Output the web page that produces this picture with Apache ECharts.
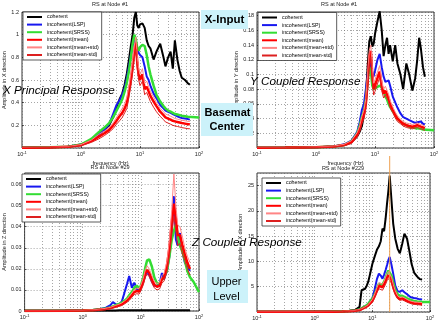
<!DOCTYPE html>
<html>
<head>
<meta charset="utf-8">
<script src="https://cdn.jsdelivr.net/npm/echarts@6/dist/echarts.min.js"></script>
<style>
html, body { margin: 0; padding: 0; background: #fff; }
#chart { width: 445px; height: 326px; }
</style>
</head>
<body>
<div id="chart"></div>
<script>
var names = ['coherent', 'incoherent(LSP)', 'incoherent(SRSS)', 'incoherent(mean)', 'incoherent(mean+std)', 'incoherent(mean-std)'];
var colors = ['#000000', '#1818f0', '#33dd33', '#ff0000', '#ff8585', '#dd2020'];
var widths = [2, 2, 2.5, 2.5, 1, 1];
var xTicks = [0.1, 1, 10, 100];
var markFreq = 20;   // orange marker in the Node #229 plot

// RS at Node #1, X direction
var freqX = [0.1, 0.3, 0.6, 1, 1.5, 2, 2.5, 3, 3.5, 4, 4.5, 5, 5.5, 6, 6.5, 7, 7.5, 8, 8.5, 9, 9.5, 10, 11, 12, 13, 14, 15, 17, 19, 22, 25, 27, 30, 33, 36, 39, 43, 47, 51, 58, 65, 70, 100];
var cohX   = [0.003, 0.006, 0.012, 0.03, 0.07, 0.12, 0.16, 0.2, 0.27, 0.36, 0.43, 0.48, 0.56, 0.66, 0.78, 0.9, 1.0, 1.15, 1.2, 1.08, 1.06, 1.09, 1.1, 1.06, 0.95, 0.9, 0.88, 0.78, 0.85, 0.92, 0.8, 0.72, 0.8, 0.85, 0.7, 0.95, 0.78, 0.68, 0.62, 0.6, 0.57, 0.56, null];
var lspX   = [0.003, 0.006, 0.012, 0.03, 0.07, 0.12, 0.16, 0.21, 0.3, 0.38, 0.42, 0.47, 0.53, 0.62, 0.72, 0.82, 0.9, 0.96, 0.95, 0.88, 0.84, 0.82, 0.8, 0.72, 0.63, 0.6, 0.55, 0.48, 0.44, 0.38, 0.35, 0.33, 0.32, 0.31, 0.3, 0.29, 0.28, 0.27, 0.265, 0.26, 0.255, 0.25, null];
var srssX  = [0.003, 0.006, 0.012, 0.03, 0.08, 0.14, 0.18, 0.22, 0.27, 0.33, 0.38, 0.43, 0.5, 0.58, 0.68, 0.8, 0.92, 1.0, 0.96, 0.88, 0.86, 0.89, 0.91, 0.9, 0.82, 0.72, 0.65, 0.55, 0.47, 0.41, 0.37, 0.35, 0.33, 0.32, 0.31, 0.3, 0.295, 0.29, 0.285, 0.28, 0.275, 0.275, 0.27];
var meanX  = [0.003, 0.005, 0.01, 0.025, 0.06, 0.1, 0.13, 0.16, 0.2, 0.24, 0.28, 0.31, 0.35, 0.4, 0.5, 0.6, 0.72, 0.85, 0.93, 0.75, 0.65, 0.6, 0.65, 0.52, 0.54, 0.5, 0.46, 0.41, 0.37, 0.32, 0.29, 0.27, 0.26, 0.25, 0.24, 0.235, 0.23, 0.225, 0.22, 0.215, 0.21, 0.21, null];
var meanPX = [0.004, 0.006, 0.012, 0.03, 0.07, 0.12, 0.15, 0.18, 0.22, 0.27, 0.31, 0.35, 0.39, 0.45, 0.55, 0.66, 0.78, 0.9, 0.98, 0.8, 0.7, 0.65, 0.7, 0.57, 0.59, 0.54, 0.5, 0.45, 0.4, 0.35, 0.32, 0.3, 0.29, 0.28, 0.27, 0.26, 0.255, 0.25, 0.245, 0.24, 0.235, 0.235, null];
var meanMX = [0.002, 0.004, 0.008, 0.02, 0.05, 0.08, 0.11, 0.14, 0.17, 0.21, 0.24, 0.27, 0.31, 0.35, 0.45, 0.55, 0.66, 0.79, 0.87, 0.69, 0.6, 0.55, 0.59, 0.47, 0.49, 0.45, 0.41, 0.36, 0.32, 0.28, 0.25, 0.23, 0.22, 0.21, 0.2, 0.195, 0.19, 0.185, 0.18, 0.175, 0.17, 0.17, null];

// RS at Node #1, Y direction
var freqY = [0.1, 0.3, 0.6, 1, 2, 3, 4, 5, 5.5, 6, 6.5, 7, 7.5, 8, 8.5, 9, 9.5, 10, 11, 12, 13, 14, 15, 16, 17, 18, 20, 22, 24, 27, 30, 34, 38, 43, 48, 52, 56, 60, 65, 70, 100];
var cohY   = [0.0005, 0.0006, 0.0008, 0.001, 0.002, 0.004, 0.008, 0.016, 0.022, 0.03, 0.045, 0.07, 0.11, 0.145, 0.152, 0.138, 0.142, 0.155, 0.172, 0.186, 0.16, 0.125, 0.14, 0.15, 0.128, 0.14, 0.118, 0.14, 0.115, 0.1, 0.08, 0.115, 0.1, 0.078, 0.095, 0.12, 0.15, 0.135, 0.11, 0.097, null];
var lspY   = [0.0005, 0.0006, 0.0008, 0.001, 0.002, 0.005, 0.01, 0.022, 0.035, 0.052, 0.06, 0.08, 0.1, 0.118, 0.112, 0.095, 0.098, 0.105, 0.12, 0.128, 0.11, 0.097, 0.09, 0.088, 0.092, 0.085, 0.07, 0.062, 0.055, 0.047, 0.042, 0.04, 0.038, 0.036, 0.034, 0.035, 0.037, 0.036, 0.033, 0.032, null];
var srssY  = [0.0005, 0.0006, 0.0008, 0.001, 0.002, 0.004, 0.009, 0.02, 0.03, 0.042, 0.05, 0.065, 0.09, 0.11, 0.105, 0.085, 0.08, 0.082, 0.083, 0.085, 0.082, 0.078, 0.07, 0.066, 0.06, 0.056, 0.05, 0.045, 0.04, 0.036, 0.033, 0.031, 0.029, 0.028, 0.027, 0.027, 0.026, 0.026, 0.025, 0.025, 0.024];
var meanY  = [0.0005, 0.0006, 0.0008, 0.001, 0.002, 0.004, 0.008, 0.018, 0.026, 0.038, 0.046, 0.06, 0.09, 0.125, 0.132, 0.1, 0.08, 0.085, 0.095, 0.104, 0.085, 0.074, 0.078, 0.076, 0.068, 0.06, 0.052, 0.045, 0.04, 0.036, 0.033, 0.031, 0.03, 0.029, 0.03, 0.031, 0.03, 0.029, 0.028, 0.027, null];
var meanPY = [0.0006, 0.0007, 0.0009, 0.0012, 0.0025, 0.005, 0.01, 0.021, 0.03, 0.043, 0.052, 0.067, 0.098, 0.133, 0.14, 0.108, 0.088, 0.093, 0.103, 0.112, 0.092, 0.08, 0.084, 0.082, 0.073, 0.065, 0.056, 0.049, 0.044, 0.039, 0.036, 0.034, 0.033, 0.032, 0.033, 0.034, 0.033, 0.032, 0.031, 0.03, null];
var meanMY = [0.0004, 0.0005, 0.0007, 0.0008, 0.0015, 0.003, 0.006, 0.015, 0.022, 0.033, 0.04, 0.053, 0.082, 0.117, 0.124, 0.092, 0.072, 0.077, 0.087, 0.096, 0.078, 0.068, 0.072, 0.07, 0.063, 0.055, 0.048, 0.041, 0.036, 0.033, 0.03, 0.028, 0.027, 0.026, 0.027, 0.028, 0.027, 0.026, 0.025, 0.024, null];

// RS at Node #29, Z direction
var freqZ = [0.1, 0.5, 1, 1.5, 2, 2.5, 3, 3.3, 3.7, 4.2, 4.7, 5.2, 5.8, 6.3, 7, 7.7, 8.5, 9.3, 10, 11, 12, 12.8, 14, 15.5, 17, 19, 21, 23, 25, 28, 31, 34, 37, 40, 43, 47, 52, 57, 63, 70, 80, 100];
var cohZ   = [0.0002, 0.0002, 0.0002, 0.0002, 0.0002, 0.0002, 0.0002, 0.0002, 0.0002, 0.0003, 0.0003, 0.0003, 0.0003, 0.0003, 0.0003, 0.0003, 0.0003, 0.0003, 0.0003, 0.0003, 0.0003, 0.0003, 0.0003, 0.0003, 0.0003, 0.0003, 0.0003, 0.0003, 0.0003, 0.0003, 0.0003, 0.0003, 0.0003, 0.0003, 0.0003, 0.0003, 0.0003, 0.0003, 0.0003, 0.0003, null, null];
var lspZ   = [0, 0.0001, 0.0002, 0.0005, 0.001, 0.0016, 0.0028, 0.0042, 0.0032, 0.003, 0.0045, 0.0085, 0.013, 0.0166, 0.011, 0.0135, 0.0105, 0.0095, 0.011, 0.014, 0.017, 0.019, 0.017, 0.014, 0.012, 0.012, 0.013, 0.018, 0.015, 0.019, 0.026, 0.038, 0.0545, 0.034, 0.031, 0.037, 0.028, 0.023, 0.021, 0.019, null, null];
var srssZ  = [0, 0.0001, 0.0002, 0.0005, 0.0008, 0.0012, 0.0017, 0.0022, 0.0028, 0.0034, 0.004, 0.0048, 0.006, 0.0075, 0.009, 0.011, 0.012, 0.011, 0.012, 0.016, 0.021, 0.024, 0.0245, 0.021, 0.016, 0.013, 0.013, 0.015, 0.016, 0.019, 0.026, 0.034, 0.038, 0.041, 0.036, 0.031, 0.028, 0.024, 0.019, 0.016, 0.014, 0.009];
var meanZ  = [0, 0.0001, 0.0002, 0.0004, 0.0007, 0.001, 0.0014, 0.0018, 0.0022, 0.0027, 0.0032, 0.004, 0.005, 0.006, 0.0075, 0.009, 0.0095, 0.0093, 0.011, 0.014, 0.018, 0.0195, 0.018, 0.015, 0.0125, 0.0115, 0.012, 0.015, 0.016, 0.021, 0.03, 0.042, 0.051, 0.044, 0.036, 0.036, 0.031, 0.027, 0.023, 0.02, null, null];
var meanPZ = [0, 0.0001, 0.0003, 0.0005, 0.0009, 0.0013, 0.0017, 0.0022, 0.0027, 0.0032, 0.0038, 0.0047, 0.0058, 0.007, 0.0085, 0.0102, 0.0108, 0.0106, 0.0124, 0.0156, 0.0198, 0.0215, 0.0198, 0.0168, 0.014, 0.013, 0.0135, 0.0168, 0.0178, 0.0235, 0.0335, 0.048, 0.065, 0.05, 0.041, 0.04, 0.035, 0.03, 0.026, 0.023, null, null];
var meanMZ = [0, 0.0001, 0.0001, 0.0003, 0.0005, 0.0007, 0.0011, 0.0014, 0.0017, 0.0022, 0.0026, 0.0033, 0.0042, 0.005, 0.0065, 0.0078, 0.0082, 0.008, 0.0096, 0.0124, 0.0162, 0.0175, 0.0162, 0.0132, 0.011, 0.01, 0.0105, 0.0132, 0.0142, 0.0185, 0.0265, 0.036, 0.045, 0.038, 0.031, 0.032, 0.027, 0.024, 0.02, 0.017, null, null];

// RS at Node #229
var freqU = [0.1, 0.5, 1, 2, 3, 4, 5, 6, 6.5, 7, 7.5, 8, 8.5, 9, 10, 11, 12, 13, 14, 15, 16, 17, 18, 19, 20, 21.5, 23, 25, 27.5, 30, 33, 36, 40, 44, 48, 53, 60, 67, 73, 100];
var cohU   = [0.06, 0.06, 0.08, 0.1, 0.15, 0.25, 0.4, 1.0, 4.3, 4.4, 4.6, 5.2, 6.0, 7.2, 9.5, 11.0, 12.3, 13.0, 14.0, 16.5, 16.0, 18.5, 21.5, 24.0, 27.0, 22.0, 17.5, 14.5, 12.5, 11.6, 13.5, 15.5, 14.5, 12.0, 9.5, 7.8, 7.0, 6.5, 6.4, null];
var lspU   = [0.05, 0.05, 0.06, 0.08, 0.12, 0.2, 0.3, 0.5, 0.7, 0.9, 1.1, 1.3, 1.6, 1.9, 2.7, 4.5, 6.5, 7.6, 7.2, 6.6, 7.4, 8.3, 9.3, 10.3, 10.9, 9.3, 7.6, 5.2, 4.1, 4.0, 4.3, 3.9, 3.5, 3.1, 2.85, 2.75, 2.65, 2.5, 2.45, null];
var srssU  = [0.05, 0.05, 0.06, 0.08, 0.12, 0.2, 0.3, 0.5, 0.7, 0.9, 1.1, 1.3, 1.6, 2.0, 2.6, 3.5, 4.6, 5.6, 5.5, 5.4, 6.0, 6.8, 7.6, 8.2, 8.5, 7.2, 5.8, 4.4, 3.5, 3.2, 3.2, 3.0, 2.7, 2.5, 2.3, 2.2, 2.1, 2.05, 2.0, 2.0];
var meanU  = [0.04, 0.04, 0.05, 0.07, 0.1, 0.16, 0.25, 0.4, 0.55, 0.7, 0.9, 1.1, 1.3, 1.6, 2.2, 3.2, 4.3, 5.2, 5.0, 4.9, 5.5, 6.2, 6.9, 7.3, 7.5, 6.3, 5.0, 3.8, 2.9, 2.6, 2.7, 2.5, 2.2, 2.0, 1.85, 1.75, 1.7, 1.65, 1.6, null];
var meanPU = [0.05, 0.05, 0.06, 0.08, 0.12, 0.19, 0.3, 0.47, 0.63, 0.8, 1.0, 1.25, 1.45, 1.8, 2.5, 3.6, 4.8, 5.8, 5.6, 5.5, 6.1, 6.9, 7.6, 8.0, 8.2, 6.9, 5.5, 4.2, 3.2, 2.9, 3.0, 2.8, 2.5, 2.25, 2.1, 2.0, 1.95, 1.9, 1.85, null];
var meanMU = [0.03, 0.03, 0.04, 0.06, 0.08, 0.13, 0.2, 0.33, 0.47, 0.6, 0.8, 0.95, 1.15, 1.4, 1.9, 2.8, 3.8, 4.6, 4.4, 4.3, 4.9, 5.5, 6.2, 6.6, 6.8, 5.7, 4.5, 3.4, 2.6, 2.3, 2.4, 2.2, 1.95, 1.75, 1.6, 1.5, 1.45, 1.4, 1.35, null];

var panels = [
    { freq: freqX, sets: [cohX, lspX, srssX, meanX, meanPX, meanMX], grid: { left: 22, top: 12, width: 177, height: 136 },
      yMax: 1.2, yStep: 0.2, showMin: false, showMax: true, yName: 'Amplitude in X direction', yGap: 15, xName: 'frequency (Hz)' },
    { freq: freqY, sets: [cohY, lspY, srssY, meanY, meanPY, meanMY], grid: { left: 257, top: 12, width: 177, height: 136 },
      yMax: 0.185, yStep: 0.02, showMin: false, showMax: false, yName: 'Amplitude in Y direction', yGap: 9, xName: 'frequency (Hz)' },
    { freq: freqZ, sets: [cohZ, lspZ, srssZ, meanZ, meanPZ, meanMZ], grid: { left: 22, top: 173, width: 177, height: 138 },
      yMax: 0.0655, yStep: 0.01, showMin: true, showMax: false, yName: 'Amplitude in Z direction', yGap: 16, xName: '' },
    { freq: freqU, sets: [cohU, lspU, srssU, meanU, meanPU, meanMU], grid: { left: 257, top: 173, width: 173, height: 139 },
      yMax: 27.5, yStep: 5, showMin: false, showMax: false, yName: 'Amplitude in X direction', yGap: 4, xName: '' }
];

var dotted = { type: [1, 2], color: '#6a6a6a', width: 0.6 };
var minorGrid = [];
[0.1, 1, 10].forEach(function (d) {
    for (var k = 2; k <= 9; k++) minorGrid.push({ xAxis: d * k });
});

var grids = [], xAxes = [], yAxes = [], series = [], legends = [];
var legendPos = [[23, 12], [258, 12.5], [22, 174], [262, 178]];

panels.forEach(function (p, i) {
    grids.push(Object.assign({ show: true, borderColor: '#000', borderWidth: 0.8, backgroundColor: '#fff' }, p.grid));
    xAxes.push({
        type: 'log', logBase: 10, gridIndex: i, min: 0.1, max: 100,
        axisLine: { show: false },
        axisTick: { inside: true, length: 2, lineStyle: { color: '#000', width: 0.6 } },
        axisLabel: {
            margin: 3, color: '#222',
            formatter: function (v) {
                if (xTicks.indexOf(v) < 0) return '';
                return '{b|10}{s|' + Math.round(Math.log10(v)) + '}';
            },
            rich: {
                b: { fontSize: 5.5, color: '#222', fontFamily: 'Liberation Sans' },
                s: { fontSize: 4, color: '#222', verticalAlign: 'top', fontFamily: 'Liberation Sans' }
            }
        },
        splitLine: { show: true, lineStyle: dotted },
        name: p.xName, nameLocation: 'middle', nameGap: 12,
        nameTextStyle: { fontSize: 5.5, color: '#222' }
    });
    yAxes.push({
        type: 'value', gridIndex: i, min: 0, max: p.yMax, interval: p.yStep,
        axisLine: { show: false },
        axisTick: { inside: true, length: 2, lineStyle: { color: '#000', width: 0.6 } },
        axisLabel: { fontSize: 5.5, color: '#222', margin: 3, showMinLabel: p.showMin, showMaxLabel: p.showMax },
        splitLine: { show: true, lineStyle: dotted },
        name: p.yName, nameLocation: 'middle', nameGap: p.yGap,
        nameTextStyle: { fontSize: 5.5, color: '#222' }
    });
    p.sets.forEach(function (vals, k) {
        var s = {
            name: names[k], type: 'line', xAxisIndex: i, yAxisIndex: i,
            symbol: 'none', silent: true,
            data: p.freq.map(function (f, j) { return [f, vals[j]]; }),
            lineStyle: { width: widths[k], color: colors[k] },
            itemStyle: { color: colors[k] }
        };
        if (k === 0) {
            s.markLine = {
                silent: true, symbol: ['none', 'none'], z: 1,
                label: { show: false }, lineStyle: dotted,
                data: minorGrid
            };
        }
        series.push(s);
    });
    legends.push({
        left: legendPos[i][0], top: legendPos[i][1], orient: 'vertical',
        data: names, selectedMode: false,
        itemWidth: 15, itemHeight: 6, itemGap: 1.6,
        padding: [2, 3, 2, 3],
        itemStyle: { opacity: 0 },
        textStyle: { fontSize: 5.3, color: '#000', lineHeight: 6 },
        backgroundColor: '#fff', borderColor: '#333', borderWidth: 0.8
    });
});

var chart = echarts.init(document.getElementById('chart'));
chart.setOption({
    animation: false,
    textStyle: { fontFamily: 'Liberation Sans' },
    grid: grids,
    xAxis: xAxes,
    yAxis: yAxes,
    legend: legends,
    series: series
});

function label(txt, x, y, size, extra) {
    return {
        type: 'text', x: x, y: y, z: 100,
        style: Object.assign({ text: txt, fontSize: size, fontFamily: 'Liberation Sans', fill: '#000', align: 'center', verticalAlign: 'middle' }, extra || {})
    };
}
function box(x, y, w, h) {
    return { type: 'rect', z: 90, shape: { x: x, y: y, width: w, height: h }, style: { fill: '#ccf2fa' } };
}

var mx = chart.convertToPixel({ xAxisIndex: 3 }, markFreq);
var italic = { fontStyle: 'italic', align: 'left' };
chart.setOption({
    graphic: [
        { type: 'line', z: 50, shape: { x1: mx, y1: 156, x2: mx, y2: 312 }, style: { stroke: '#eea050', lineWidth: 1 } },
        label('RS at Node #1', 110, 4, 5.5, { fill: '#222' }),
        label('RS at Node #1', 339, 4, 5.5, { fill: '#222' }),
        label('RS at Node #29', 110, 167.5, 5.5, { fill: '#222' }),
        label('RS at Node #229', 343, 168, 5.5, { fill: '#222' }),
        box(201, 10, 47, 19),
        label('X-Input', 224.5, 19.5, 11.5, { fontWeight: 'bold' }),
        box(201, 103, 52, 33),
        label('Basemat', 227.5, 112.5, 11, { fontWeight: 'bold' }),
        label('Center', 227, 126.5, 11, { fontWeight: 'bold' }),
        box(207, 270, 41, 33),
        label('Upper', 226.5, 281.5, 11),
        label('Level', 226.5, 296.5, 11),
        label('X Principal Response', 3, 91, 11.7, italic),
        label('Y Coupled Response', 250, 82, 11.7, italic),
        label('Z Coupled Response', 192, 243, 11.7, italic)
    ]
});
</script>
</body>
</html>
